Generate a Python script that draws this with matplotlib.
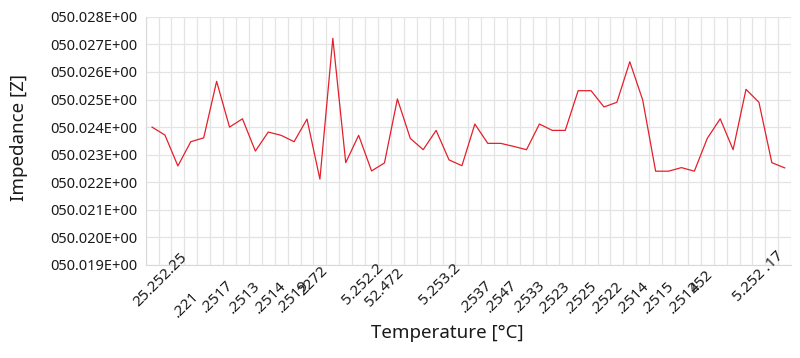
import matplotlib
matplotlib.use("Agg")
import matplotlib.pyplot as plt
from matplotlib.ticker import FuncFormatter, MultipleLocator

# impedance readings, one per temperature step
impedance = [
    50.02400, 50.02371, 50.02259, 50.02347, 50.02361, 50.02566, 50.02400, 50.02430,
    50.02313, 50.02382, 50.02370, 50.02347, 50.02429, 50.02211, 50.02722, 50.02271,
    50.02370, 50.02241, 50.02270, 50.02502, 50.02359, 50.02318, 50.02388, 50.02281,
    50.02260, 50.02411, 50.02341, 50.02341, 50.02330, 50.02318, 50.02411, 50.02388,
    50.02388, 50.02532, 50.02532, 50.02473, 50.02490, 50.02637, 50.02498, 50.02240,
    50.02240, 50.02253, 50.02240, 50.02359, 50.02430, 50.02318, 50.02537, 50.02490,
    50.02271, 50.02252,
]

# temperature labels as they show under the axis (they overlap in the source)
temp_labels = [
    "25.252.25", ".221", ".2517", ".2513", ".2514", ".2519", "2272",
    "5.252.2", "52.472", "5.253.2", ".2537", ".2547", ".2533", ".2523",
    ".2525", ".2522", ".2514", ".2515", ".2512", "452", "5.252 .17",
]

# where each label ends: category position and drop below the axis in pixels
label_at = [2.56, 3.51, 6.14, 8.23, 10.25, 12.03, 13.42, 17.76, 19.31, 23.73,
            26.2, 28.14, 30.3, 32.2, 34.3, 36.3, 38.3, 40.3, 42.3, 43.3, 48.75]
label_drop = [-10, 29, 18, 19, 19, 18, 4, 1, 6, 1,
              18, 18, 18, 19, 19, 19, 19, 19, 19, 8, -11]

plt.rcParams['font.family'] = ['Noto Sans', 'DejaVu Sans']

fig = plt.figure(figsize=(8.0, 3.58), dpi=100)
ax = fig.add_axes([0.182, 0.260, 0.807, 0.693])

n = len(impedance)
ax.plot(range(n), impedance, color='#e3202b', linewidth=0.9)

ax.set_xlim(-0.5, n - 0.5)
ax.set_ylim(50.019, 50.028)
ax.yaxis.set_major_locator(MultipleLocator(0.001))
ax.yaxis.set_major_formatter(FuncFormatter(lambda v, _: f"{v:07.3f}E+00"))
ax.set_xticks([i + 0.5 for i in range(-1, n)])
ax.set_xticklabels([])

ax.grid(True, color='#e4e4e4', linewidth=0.9)
ax.set_axisbelow(True)
ax.tick_params(length=0, labelsize=10.5, colors='#1a1a1a', pad=6)
for side in ['top', 'right']:
    ax.spines[side].set_visible(False)
for side in ['left', 'bottom']:
    ax.spines[side].set_color('#d9d9d9')

for s, x, d in zip(temp_labels, label_at, label_drop):
    ax.annotate(s, xy=(x, 0), xycoords=ax.get_xaxis_transform(),
                xytext=(0, -d), textcoords='offset pixels',
                rotation=45, rotation_mode='anchor', ha='right', va='center',
                fontsize=11, color='#1a1a1a', annotation_clip=False)

ax.set_ylabel("Impedance [Z]", fontsize=13.5, color='#1a1a1a')
ax.yaxis.set_label_coords(-0.182, 0.515)
ax.set_xlabel("Temperature [°C]", fontsize=13.5, color='#1a1a1a')
ax.xaxis.set_label_coords(0.468, -0.238)

fig.savefig('out.png', dpi=100)
